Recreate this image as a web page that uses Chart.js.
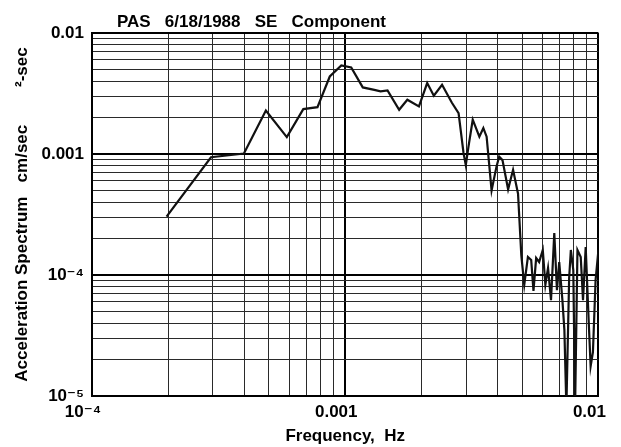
<!DOCTYPE html>
<html>
<head>
<meta charset="utf-8">
<script src="https://cdn.jsdelivr.net/npm/chart.js@4/dist/chart.umd.min.js"></script>
<style>
  body { margin: 0; background: #fff; }
  canvas { display: block; }
</style>
</head>
<body>
<canvas id="spectre" width="621" height="447"></canvas>
<script>
let chartTitle = 'PAS   6/18/1988   SE   Component'
let xTitle = 'Frequency,  Hz'
let yTitle = 'Acceleration Spectrum   cm/sec        ²-sec'

let frequencies = [
  1.97e-4, 2.95e-4, 3.98e-4, 4.86e-4, 5.88e-4, 6.83e-4, 7.77e-4, 8.69e-4, 9.65e-4, 1.056e-3,
  1.173e-3, 1.303e-3, 1.379e-3, 1.469e-3, 1.633e-3, 1.759e-3, 1.955e-3, 2.107e-3, 2.238e-3, 2.412e-3,
  2.638e-3, 2.803e-3, 2.932e-3, 2.993e-3, 3.067e-3, 3.188e-3, 3.386e-3, 3.511e-3, 3.617e-3, 3.784e-3,
  3.958e-3, 4.055e-3, 4.178e-3, 4.398e-3, 4.601e-3, 4.813e-3, 4.958e-3, 5.093e-3, 5.265e-3, 5.425e-3,
  5.538e-3, 5.675e-3, 5.831e-3, 6.028e-3, 6.171e-3, 6.323e-3, 6.496e-3, 6.692e-3, 6.857e-3, 7.0e-3,
  7.205e-3, 7.336e-3, 7.47e-3, 7.66e-3, 7.78e-3, 7.955e-3, 8.085e-3, 8.262e-3, 8.511e-3, 8.69e-3,
  8.904e-3, 9.148e-3, 9.314e-3, 9.509e-3, 9.743e-3, 1.0e-2
]
let spectrum = [
  3.04e-4, 9.4e-4, 1.01e-3, 2.29e-3, 1.38e-3, 2.35e-3, 2.44e-3, 4.37e-3, 5.39e-3, 5.19e-3,
  3.55e-3, 3.39e-3, 3.29e-3, 3.35e-3, 2.32e-3, 2.81e-3, 2.47e-3, 3.86e-3, 3.03e-3, 3.73e-3,
  2.65e-3, 2.18e-3, 1.02e-3, 8.1e-4, 1.15e-3, 1.92e-3, 1.39e-3, 1.64e-3, 1.39e-3, 5.0e-4,
  7.9e-4, 9.5e-4, 8.9e-4, 5.1e-4, 7.4e-4, 4.7e-4, 1.46e-4, 8.3e-5, 1.41e-4, 1.33e-4,
  7.4e-5, 1.38e-4, 1.28e-4, 1.61e-4, 8.3e-5, 1.14e-4, 6.2e-5, 2.22e-4, 7.5e-5, 1.28e-4,
  6.2e-5, 3.5e-5, 8e-6, 9.4e-5, 1.61e-4, 1.1e-4, 8e-6, 1.61e-4, 1.41e-4, 6.2e-5,
  1.7e-4, 4.2e-5, 1.76e-5, 2.3e-5, 9.1e-5, 1.61e-4
]

let xDecades = [1e-4, 1e-3, 1e-2]
let xTickLabels = ['10⁻⁴', '0.001', '0.01']
let yDecades = [1e-5, 1e-4, 1e-3, 1e-2]
let yTickLabels = ['10⁻⁵', '10⁻⁴', '0.001', '0.01']

let police = '"Liberation Sans", Arial, "DejaVu Sans", sans-serif'
Chart.defaults.font.family = police
Chart.defaults.color = '#000'

let same = function(a, b){
  return Math.abs(a - b) / b < 1e-6
}

let logTicks = function(decades){
  let ticks = []
  for(let i = 0 ; i < decades.length - 1 ; i++){
    for(let m = 1 ; m < 10 ; m++){
      ticks.push({value: Number((m * decades[i]).toPrecision(6))})
    }
  }
  ticks.push({value: decades[decades.length - 1]})
  return ticks
}

let labelFor = function(decades, labels){
  return function(value){
    for(let i = 0 ; i < decades.length ; i++){
      if(same(value, decades[i])) return labels[i]
    }
    return ''
  }
}

let gridFor = function(decades){
  return {
    drawTicks: false,
    color: function(ctx){
      let major = ctx.tick && decades.some(d => same(ctx.tick.value, d))
      return major ? '#000' : '#2a2a2a'
    },
    lineWidth: function(ctx){
      let major = ctx.tick && decades.some(d => same(ctx.tick.value, d))
      return major ? 2 : 1
    }
  }
}

let titlePlugin = {
  id: 'plotTitle',
  afterDraw: function(chart){
    let ctx = chart.ctx
    ctx.save()
    ctx.font = 'bold 17px ' + police
    ctx.fillStyle = '#000'
    ctx.textBaseline = 'alphabetic'
    ctx.fillText(chartTitle, chart.chartArea.left + 25, chart.chartArea.top - 6)
    ctx.restore()
  }
}

let points = []
for(let i = 0 ; i < frequencies.length ; i++){
  points.push({x: frequencies[i], y: spectrum[i]})
}

let myChart = new Chart(document.getElementById('spectre'), {
  type: 'line',
  data: {
    datasets: [{
      data: points,
      borderColor: '#111',
      borderWidth: 2.2,
      pointRadius: 0,
      tension: 0,
      fill: false
    }]
  },
  plugins: [titlePlugin],
  options: {
    responsive: false,
    animation: false,
    devicePixelRatio: 1,
    layout: { padding: { left: 0, right: 18, top: 33, bottom: 0 } },
    plugins: {
      legend: { display: false },
      tooltip: { enabled: false }
    },
    scales: {
      x: {
        type: 'logarithmic',
        min: 1e-4,
        max: 1e-2,
        afterBuildTicks: function(scale){ scale.ticks = logTicks(xDecades) },
        afterFit: function(scale){ scale.height = 51 },
        grid: gridFor(xDecades),
        border: { display: true, color: '#000', width: 2 },
        ticks: {
          autoSkip: false,
          maxRotation: 0,
          padding: 6,
          labelOffset: -9,
          font: { size: 17, weight: 'bold' },
          callback: labelFor(xDecades, xTickLabels)
        },
        title: {
          display: true,
          text: xTitle,
          font: { size: 17, weight: 'bold' },
          padding: { top: 1, bottom: 0 }
        }
      },
      y: {
        type: 'logarithmic',
        min: 1e-5,
        max: 1e-2,
        afterBuildTicks: function(scale){ scale.ticks = logTicks(yDecades) },
        afterFit: function(scale){ scale.width = 92 },
        grid: gridFor(yDecades),
        border: { display: true, color: '#000', width: 2 },
        ticks: {
          autoSkip: false,
          padding: 8,
          font: { size: 17, weight: 'bold' },
          callback: labelFor(yDecades, yTickLabels)
        },
        title: {
          display: true,
          text: yTitle,
          font: { size: 17, weight: 'bold' },
          padding: { top: 12, bottom: 0 }
        }
      }
    }
  }
})
</script>
</body>
</html>
